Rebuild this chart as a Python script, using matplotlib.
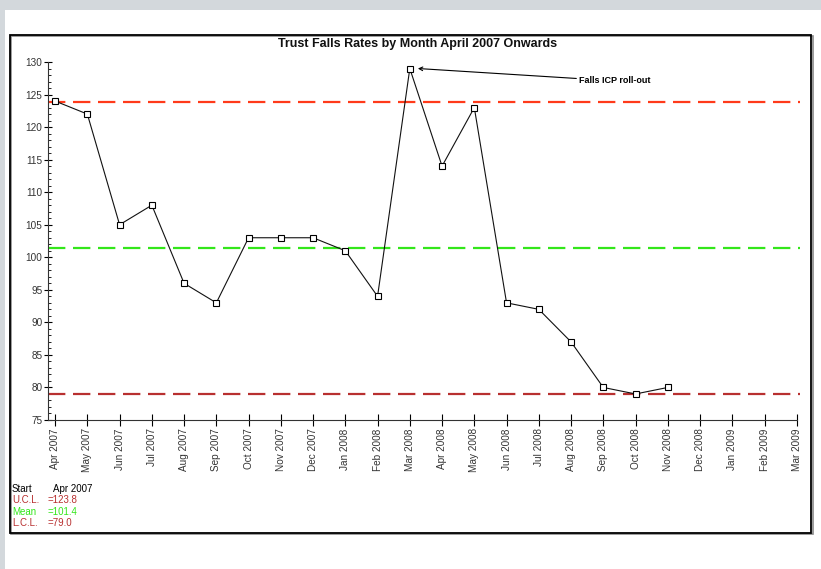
import matplotlib
matplotlib.use("Agg")
import matplotlib.pyplot as plt
from matplotlib.patches import Rectangle
from matplotlib.ticker import MultipleLocator

plt.rcParams['font.family'] = ['Liberation Sans', 'DejaVu Sans']
plt.rcParams['lines.scale_dashes'] = False

months = ["Apr 2007", "May 2007", "Jun 2007", "Jul 2007", "Aug 2007", "Sep 2007",
          "Oct 2007", "Nov 2007", "Dec 2007", "Jan 2008", "Feb 2008", "Mar 2008",
          "Apr 2008", "May 2008", "Jun 2008", "Jul 2008", "Aug 2008", "Sep 2008",
          "Oct 2008", "Nov 2008", "Dec 2008", "Jan 2009", "Feb 2009", "Mar 2009"]
rates = [124, 122, 105, 108, 96, 93, 103, 103, 103, 101, 94, 129,
         114, 123, 93, 92, 87, 80, 79, 80]
ucl = 123.8
mean = 101.4
lcl = 79.0

ucl_color = "#ff3a1a"
mean_color = "#33e61a"
lcl_color = "#b83030"

W, H = 821, 569
fig = plt.figure(figsize=(W / 100, H / 100), dpi=100)
fig.patch.set_facecolor("white")

# grey page strips
grey = "#d3d8dc"
fig.patches.append(Rectangle((0, 1 - 10 / H), 1, 10 / H, transform=fig.transFigure,
                             facecolor=grey, edgecolor="none", zorder=0))
fig.patches.append(Rectangle((0, 0), 5 / W, 1, transform=fig.transFigure,
                             facecolor=grey, edgecolor="none", zorder=0))
# shadow + frame
fig.patches.append(Rectangle((11 / W, 1 - 534 / H), (812 - 10) / W, (533 - 35) / H,
                             transform=fig.transFigure, facecolor="none",
                             edgecolor="#8a8a8a", linewidth=1.2, zorder=1))
fig.patches.append(Rectangle((10 / W, 1 - 533 / H), (811 - 10) / W, (533 - 35) / H,
                             transform=fig.transFigure, facecolor="none",
                             edgecolor="black", linewidth=1.3, zorder=2))

ax = fig.add_axes([48 / W, 1 - 420 / H, (800 - 48) / W, (420 - 62) / H])
ax.set_facecolor("none")

x = list(range(len(rates)))
for val, col in [(ucl, ucl_color), (mean, mean_color), (lcl, lcl_color)]:
    ax.axhline(val, color=col, linewidth=1.6, dashes=(12.5, 5.5), zorder=2)

ax.plot(x, rates, color="#111111", linewidth=0.8, marker="s", markersize=5,
        markerfacecolor="white", markeredgecolor="black", markeredgewidth=0.8, zorder=3)

ax.set_xlim(-0.22, 23.1)
ax.set_ylim(75, 130)
ax.set_xticks(range(len(months)))
ax.set_xticklabels(months, rotation=90, fontsize=7.2, color="#333333")
ax.yaxis.set_major_locator(MultipleLocator(5))
ax.yaxis.set_minor_locator(MultipleLocator(1))
ax.tick_params(axis="y", which="major", direction="inout", length=6, width=0.8,
               labelsize=7.2, labelcolor="#333333", pad=1)
ax.tick_params(axis="y", which="minor", direction="in", length=2.5, width=0.6)
ax.tick_params(axis="x", which="major", direction="inout", length=8, width=0.8, pad=2)
for s in ["top", "right"]:
    ax.spines[s].set_visible(False)
for s in ["left", "bottom"]:
    ax.spines[s].set_linewidth(0.8)
    ax.spines[s].set_color("#333333")
ax.spines["bottom"].set_bounds(-0.22, 23)

ax.annotate("Falls ICP roll-out", xy=(11.25, 129), xytext=(16.25, 127.1),
            fontsize=6.5, fontweight="bold", va="center", ha="left",
            arrowprops=dict(arrowstyle="->", color="black", linewidth=0.8,
                            shrinkA=0, shrinkB=0))

fig.text(418 / W, 1 - 44 / H, "Trust Falls Rates by Month April 2007 Onwards",
         ha="center", va="center", fontsize=9, fontweight="bold", color="#111111")

# legend text block
rows = [("Start", "Apr 2007", "black"),
        ("U.C.L.", "=123.8", lcl_color),
        ("Mean", "=101.4", mean_color),
        ("L.C.L.", "=79.0", lcl_color)]
for i, (lab, val, col) in enumerate(rows):
    yy = 1 - (489 + i * 11.3) / H
    fig.text(12 / W, yy, lab, fontsize=7, color=col, va="center", ha="left")
    fig.text((53 if i == 0 else 48) / W, yy, val, fontsize=7, color=col,
             va="center", ha="left")

fig.savefig("out.png", dpi=100, facecolor=fig.get_facecolor())
